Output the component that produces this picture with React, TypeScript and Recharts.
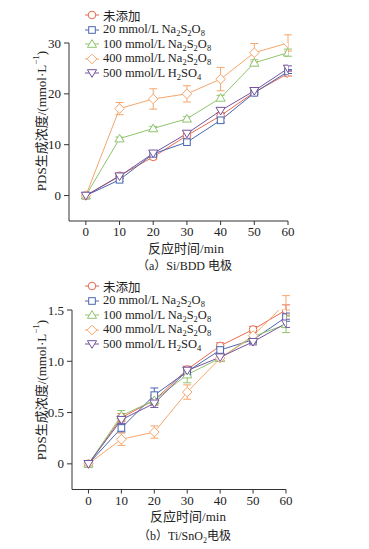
import React from 'react';
import { LineChart, Line, XAxis, YAxis, ErrorBar, Label } from 'recharts';

const times = [0, 10, 20, 30, 40, 50, 60];
const seriesNames = ['未添加', '20 mmol/L Na_2S_2O_8', '100 mmol/L Na_2S_2O_8', '400 mmol/L Na_2S_2O_8', '500 mmol/L H_2SO_4'];
const seriesColors = ['#e8694e', '#4a66b0', '#8fc46e', '#f5a66c', '#74549e'];
const seriesMarkers = ['circle', 'square', 'triangle', 'diamond', 'triangleDown'];

// (a) Si/BDD
const aVal0 = [0, 3.9, 7.6, 11.8, 15.7, 20.3, 24.0];
const aVal1 = [0, 3.1, 8.2, 10.5, 14.8, 20.2, 24.4];
const aVal2 = [0, 11.2, 13.2, 15.1, 19.2, 26.1, 28.1];
const aVal3 = [0, 17.1, 19.0, 20.0, 22.9, 28.1, 30.0];
const aVal4 = [0, 3.8, 8.3, 12.2, 16.7, 20.6, 25.0];
const aErr0 = [0, 0.5, 0.4, 0.5, 0.5, 0.4, 0.5];
const aErr1 = [0, 0.3, 0.3, 0.3, 0.4, 0.4, 0.4];
const aErr2 = [0, 0.3, 0.4, 0.4, 0.5, 0.6, 0.7];
const aErr3 = [0, 1.2, 2.0, 1.6, 2.3, 1.8, 1.6];
const aErr4 = [0, 0.4, 0.4, 0.4, 0.5, 0.4, 0.5];
const aYTicks = [0, 10, 20, 30];

// (b) Ti/SnO2
const bVal0 = [0, 0.45, 0.62, 0.92, 1.15, 1.31, 1.50];
const bVal1 = [0, 0.35, 0.67, 0.90, 1.11, 1.21, 1.43];
const bVal2 = [0, 0.47, 0.62, 0.87, 1.03, 1.24, 1.36];
const bVal3 = [0, 0.24, 0.31, 0.70, 1.03, 1.25, 1.57];
const bVal4 = [0, 0.43, 0.59, 0.91, 1.04, 1.19, 1.37];
const bErr0 = [0, 0.04, 0.04, 0.03, 0.03, 0.03, 0.05];
const bErr1 = [0, 0.04, 0.07, 0.04, 0.03, 0.03, 0.04];
const bErr2 = [0, 0.05, 0.05, 0.08, 0.03, 0.05, 0.08];
const bErr3 = [0, 0.06, 0.06, 0.07, 0.03, 0.03, 0.07];
const bErr4 = [0, 0.04, 0.04, 0.04, 0.03, 0.03, 0.04];
const bYTicks = [0, 0.5, 1.0, 1.5];

const xTicks = [0, 10, 20, 30, 40, 50, 60];

function buildData(vals: number[][], errs: number[][]) {
  return times.map((t, i) => {
    const row: any = { t };
    vals.forEach((v, k) => { row['s' + k] = v[i]; row['e' + k] = errs[k][i]; });
    return row;
  });
}

const dataA = buildData([aVal0, aVal1, aVal2, aVal3, aVal4], [aErr0, aErr1, aErr2, aErr3, aErr4]);
const dataB = buildData([bVal0, bVal1, bVal2, bVal3, bVal4], [bErr0, bErr1, bErr2, bErr3, bErr4]);

const SERIF = '"Liberation Serif", "Times New Roman", "Noto Sans CJK SC", serif';

function Marker({ cx, cy, shape, color }: any) {
  if (cx == null || cy == null) return null;
  const common = { fill: '#fff', stroke: color, strokeWidth: 1 };
  switch (shape) {
    case 'circle':
      return <circle cx={cx} cy={cy} r={3.8} {...common} />;
    case 'square':
      return <rect x={cx - 3.3} y={cy - 3.3} width={6.6} height={6.6} {...common} />;
    case 'triangle':
      return <polygon points={`${cx},${cy - 4.3} ${cx + 4.6},${cy + 3.3} ${cx - 4.6},${cy + 3.3}`} {...common} />;
    case 'diamond':
      return <polygon points={`${cx},${cy - 4.8} ${cx + 4.8},${cy} ${cx},${cy + 4.8} ${cx - 4.8},${cy}`} {...common} />;
    case 'triangleDown':
      return <polygon points={`${cx},${cy + 4.3} ${cx + 4.6},${cy - 3.3} ${cx - 4.6},${cy - 3.3}`} {...common} />;
    default:
      return null;
  }
}

function SubText({ text }: { text: string }) {
  const parts: React.ReactNode[] = [];
  let i = 0;
  let buf = '';
  let k = 0;
  while (i < text.length) {
    if (text[i] === '_' && i + 1 < text.length) {
      if (buf) { parts.push(<span key={k++}>{buf}</span>); buf = ''; }
      parts.push(<span key={k++} style={{ fontSize: 8.5, display: 'inline-block', transform: 'translateY(3px)' }}>{text[i + 1]}</span>);
      i += 2;
    } else {
      buf += text[i];
      i += 1;
    }
  }
  if (buf) parts.push(<span key={k++}>{buf}</span>);
  return <>{parts}</>;
}

function LegendBox({ left, top }: { left: number; top: number }) {
  return (
    <div style={{ position: 'absolute', left, top, fontFamily: SERIF, fontSize: 12.5, color: '#222' }}>
      {seriesNames.map((name, i) => (
        <div key={name} style={{ display: 'flex', alignItems: 'center', height: 14.5, whiteSpace: 'nowrap' }}>
          <svg width={16} height={12} style={{ marginRight: 3 }}>
            <line x1={1} y1={6} x2={15} y2={6} stroke={seriesColors[i]} strokeWidth={1} />
            <Marker cx={8} cy={6} shape={seriesMarkers[i]} color={seriesColors[i]} />
          </svg>
          <span><SubText text={name} /></span>
        </div>
      ))}
    </div>
  );
}

function YLabel({ x, y }: { x: number; y: number }) {
  return (
    <text x={x} y={y} transform={`rotate(-90, ${x}, ${y})`} textAnchor="middle" dominantBaseline="central"
      fontSize={13} fill="#222" fontFamily={SERIF}>
      PDS生成浓度/(mmol·L<tspan dy={-5} fontSize={9}>−1</tspan><tspan dy={5}>)</tspan>
    </text>
  );
}

const tickStyle = { fontSize: 13, fill: '#222', fontFamily: SERIF };

function Panel({ data, yDomain, yTicks, yFmt, left, right, top, xAxisH, ylx, yly, xlx, xly }: any) {
  return (
    <LineChart width={369} height={262} data={data} margin={{ top, right, bottom: 0, left: 0 }}>
      <XAxis dataKey="t" type="number" domain={[-5, 60]} ticks={xTicks} height={xAxisH}
        axisLine={{ stroke: '#333' }} tickLine={{ stroke: '#333' }} tickSize={4} tickMargin={2} tick={tickStyle}
        interval={0} allowDataOverflow>
        <Label content={() => (
          <text x={xlx} y={xly} textAnchor="middle" dominantBaseline="central" fontSize={13} fill="#222" fontFamily={SERIF}>反应时间/min</text>
        )} />
      </XAxis>
      <YAxis type="number" domain={yDomain} ticks={yTicks} width={left} tickFormatter={yFmt}
        axisLine={{ stroke: '#333' }} tickLine={{ stroke: '#333' }} tickSize={5} tickMargin={3} tick={tickStyle}
        interval={0} allowDataOverflow>
        <Label content={() => <YLabel x={ylx} y={yly} />} />
      </YAxis>
      {seriesNames.map((name, i) => (
        <Line key={name} dataKey={'s' + i} name={name} stroke={seriesColors[i]} strokeWidth={1} isAnimationActive={false}
          dot={(p: any) => <Marker key={'d' + i + '-' + p.index} cx={p.cx} cy={p.cy} shape={seriesMarkers[i]} color={seriesColors[i]} />}
          activeDot={false}>
          <ErrorBar dataKey={'e' + i} width={4} stroke={seriesColors[i]} strokeWidth={1} direction="y" isAnimationActive={false} />
        </Line>
      ))}
    </LineChart>
  );
}

const fmtA = (v: number) => String(v);
const fmtB = (v: number) => (v === 0 ? '0' : v.toFixed(1));

export default function App() {
  return (
    <div style={{ position: 'relative', width: 369, height: 549, margin: '-8px 0 0 -8px', background: '#fff', fontFamily: SERIF, overflow: 'hidden' }}>
      <div style={{ position: 'absolute', left: 0, top: 0 }}>
        <Panel data={dataA} yDomain={[-5, 30]} yTicks={aYTicks} yFmt={fmtA} left={69} right={81} top={43} xAxisH={41}
          ylx={41} yly={121} xlx={186} xly={248} />
      </div>
      <LegendBox left={84} top={7.75} />
      <div style={{ position: 'absolute', left: 0, top: 259, width: 369, textAlign: 'center', fontSize: 12, color: '#222', lineHeight: '14px' }}>
        <span>（a）Si/BDD 电极</span>
      </div>
      <div style={{ position: 'absolute', left: 0, top: 272 }}>
        <Panel data={dataB} yDomain={[-0.25, 1.5]} yTicks={bYTicks} yFmt={fmtB} left={72} right={83} top={38} xAxisH={44.5}
          ylx={41} yly={118} xlx={188} xly={244} />
      </div>
      <LegendBox left={84} top={278.75} />
      <div style={{ position: 'absolute', left: 0, top: 529, width: 369, textAlign: 'center', fontSize: 12, color: '#222', lineHeight: '14px' }}>
        <span>（b）Ti/SnO<span style={{ fontSize: 8, display: 'inline-block', transform: 'translateY(3px)' }}>2</span>电极</span>
      </div>
    </div>
  );
}
